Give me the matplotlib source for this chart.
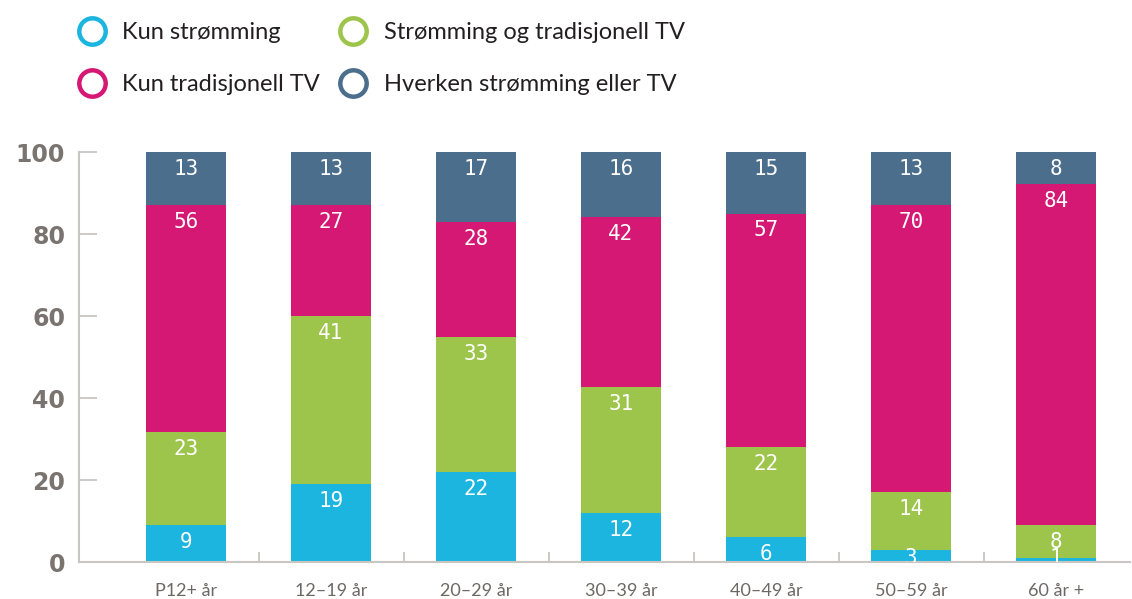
import numpy as np
import matplotlib.pyplot as plt
from matplotlib.lines import Line2D

categories = ["P12+ år", "12–19 år", "20–29 år", "30–39 år", "40–49 år", "50–59 år", "60 år +"]
kun_stromming = [9, 19, 22, 12, 6, 3, 1]
stromming_og_tv = [23, 41, 33, 31, 22, 14, 8]
kun_tv = [56, 27, 28, 42, 57, 70, 84]
hverken = [13, 13, 17, 16, 15, 13, 8]

series = [kun_stromming, stromming_og_tv, kun_tv, hverken]
names = ["Kun strømming", "Strømming og tradisjonell TV", "Kun tradisjonell TV", "Hverken strømming eller TV"]
colors = ["#1cb5df", "#9dc54b", "#d51874", "#4a6e8c"]

W, H = 1132, 599
fig = plt.figure(figsize=(W / 100, H / 100), dpi=100)
# axes in pixel coords: left 79, right 1130, bottom 562, top 152
ax = fig.add_axes([79 / W, (H - 562) / H, (1130 - 79) / W, (562 - 152) / H])

x = np.arange(len(categories))
px_per_unit = 145
ax.set_xlim((79 - 186) / px_per_unit, (1130 - 186) / px_per_unit)
ax.set_ylim(0, 100)

# rounded shares may sum to 101 -> bars are scaled to 100 %
totals = np.sum(np.array(series, dtype=float), axis=0)
label_off = 17 * 100 / 410  # label ~17 px below segment top
bottom = np.zeros(len(categories))
for vals, col in zip(series, colors):
    raw = np.array(vals, dtype=float)
    h = raw / totals * 100
    ax.bar(x, h, bottom=bottom, width=80 / px_per_unit, color=col, linewidth=0)
    for xi, b, v, r in zip(x, bottom, h, raw):
        y = max(b + v - label_off, 1.0)
        ax.text(xi, y, f"{int(r)}", ha="center", va="center", color="white",
                fontsize=15, family="DejaVu Sans Mono", clip_on=True)
    bottom += h

grid_col = "#c9c5c1"
for s in ["top", "right"]:
    ax.spines[s].set_visible(False)
ax.spines["left"].set_color(grid_col)
ax.spines["bottom"].set_color(grid_col)
ax.spines["left"].set_linewidth(1.5)
ax.spines["bottom"].set_linewidth(1.5)

ax.set_yticks([0, 20, 40, 60, 80, 100])
ax.tick_params(axis="y", direction="in", length=13, width=1.3, color=grid_col,
               pad=10, labelsize=17, labelcolor="#7a7471")
for lab in ax.get_yticklabels():
    lab.set_fontweight("bold")

ax.set_xticks(x)
ax.set_xticklabels(categories)
ax.tick_params(axis="x", length=0, pad=15, labelsize=13, labelcolor="#6d6865")
for lab in ax.get_xticklabels():
    lab.set_family("Lato")
ax.set_xticks(x[:-1] + 0.5, minor=True)
ax.tick_params(axis="x", which="minor", direction="in", length=7, width=1.3, color=grid_col)

# legend
handles = [Line2D([], [], marker="o", linestyle="none", markersize=19,
                  markerfacecolor="none", markeredgecolor=c, markeredgewidth=3.2)
           for c in colors]
order = [0, 2, 1, 3]
leg = fig.legend([handles[i] for i in order], [names[i] for i in order], ncol=2,
                 loc="upper left", bbox_to_anchor=(55 / W, 1 - 1 / H), frameon=False,
                 handletextpad=0.65, columnspacing=0.75, labelspacing=1.3,
                 handlelength=1.3, prop={"family": "Lato", "size": 17})
for t in leg.get_texts():
    t.set_color("#231f20")

fig.savefig("out.png", dpi=100)
